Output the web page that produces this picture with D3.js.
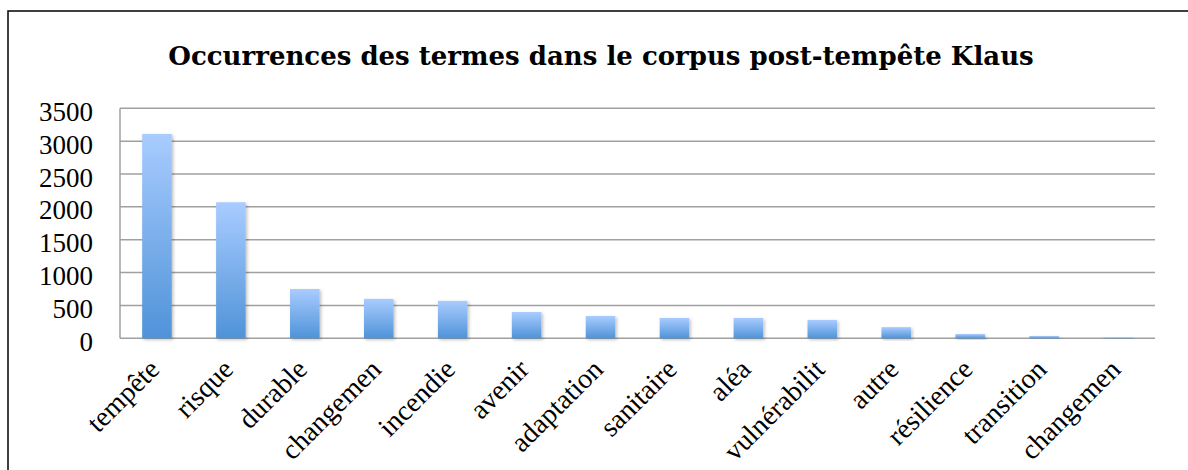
<html>
    <head>
        <title>Occurrences</title>
        <style>
            body { margin: 0; background: #fff; }
        </style>
    </head>
    <body>
    <script src="https://d3js.org/d3.v7.min.js"></script>
        <script>
            var termes = ["tempête", "risque", "durable", "changemen", "incendie", "avenir", "adaptation",
                          "sanitaire", "aléa", "vulnérabilit", "autre", "résilience", "transition", "changemen"];
            var occurrences = [3110, 2070, 750, 600, 570, 400, 340, 310, 310, 280, 170, 65, 35, 15];
            var yTicks = [0, 500, 1000, 1500, 2000, 2500, 3000, 3500];
            var titre = "Occurrences des termes dans le corpus post-tempête Klaus";

            var w = 1188;
            var h = 470;
            var svg = d3.select('body')
                        .append('svg')
                        .attr('width', w)
                        .attr('height', h);

            var defs = svg.append('defs');
            var grad = defs.append('linearGradient')
                           .attr('id', 'barGrad')
                           .attr('x1', 0).attr('y1', 0)
                           .attr('x2', 0).attr('y2', 1);
            grad.append('stop').attr('offset', '0%').attr('stop-color', '#a9ccff');
            grad.append('stop').attr('offset', '100%').attr('stop-color', '#4f93d8');

            var shadow = defs.append('filter')
                             .attr('id', 'ombre')
                             .attr('x', '-30%').attr('y', '-10%')
                             .attr('width', '160%').attr('height', '130%');
            shadow.append('feDropShadow')
                  .attr('dx', 1.5).attr('dy', 1.5)
                  .attr('stdDeviation', 1.5)
                  .attr('flood-color', '#000')
                  .attr('flood-opacity', 0.25);

            // cadre du graphique (coupé à droite et en bas)
            svg.append('rect')
               .attr('x', 8).attr('y', 11)
               .attr('width', 1200).attr('height', 480)
               .attr('fill', 'none')
               .attr('stroke', '#000')
               .attr('stroke-width', 1.5);

            svg.append('text')
               .attr('x', 601)
               .attr('y', 65)
               .attr('text-anchor', 'middle')
               .style('font-family', '"DejaVu Serif", serif')
               .style('font-weight', 'bold')
               .style('font-size', '26px')
               .text(titre);

            var x = d3.scaleBand()
                      .domain(d3.range(termes.length))
                      .range([120, 1155])
                      .paddingInner(0.6)
                      .paddingOuter(0.3);

            var y = d3.scaleLinear()
                      .domain([0, 3500])
                      .range([338.3, 108.3]);

            // grille
            svg.append('g')
               .selectAll('line')
               .data(yTicks)
               .enter()
               .append('line')
               .attr('x1', 120)
               .attr('x2', 1155)
               .attr('y1', d => y(d))
               .attr('y2', d => y(d))
               .attr('stroke', '#a0a0a0')
               .attr('stroke-width', 1.5);

            svg.append('line')
               .attr('x1', 120).attr('x2', 120)
               .attr('y1', y(3500)).attr('y2', y(0))
               .attr('stroke', '#a0a0a0')
               .attr('stroke-width', 1.5);

            // axe y
            var yAxis = d3.axisLeft(y)
                          .tickValues(yTicks)
                          .tickFormat(d3.format('d'))
                          .tickSize(0)
                          .tickPadding(0);
            var gy = svg.append('g')
                        .attr('transform', 'translate(93,0)')
                        .call(yAxis);
            gy.select('.domain').remove();
            gy.selectAll('text')
              .attr('dy', 12)
              .style('font-family', '"Liberation Serif", serif')
              .style('font-size', '27px')
              .attr('fill', '#000');

            // barres
            svg.append('g')
               .selectAll('rect')
               .data(occurrences)
               .enter()
               .append('rect')
               .attr('x', (d, i) => x(i))
               .attr('y', d => y(d))
               .attr('width', x.bandwidth())
               .attr('height', d => y(0) - y(d))
               .attr('fill', 'url(#barGrad)')
               .attr('filter', 'url(#ombre)');

            // étiquettes x
            svg.append('g')
               .selectAll('text')
               .data(termes)
               .enter()
               .append('text')
               .attr('transform', (d, i) => 'translate(' + (x(i) + x.bandwidth() / 2 + 4) + ',371) rotate(-45)')
               .attr('text-anchor', 'end')
               .style('font-family', '"Liberation Serif", serif')
               .style('font-size', '28px')
               .text(d => d);
        </script>
    </body>
</html>
